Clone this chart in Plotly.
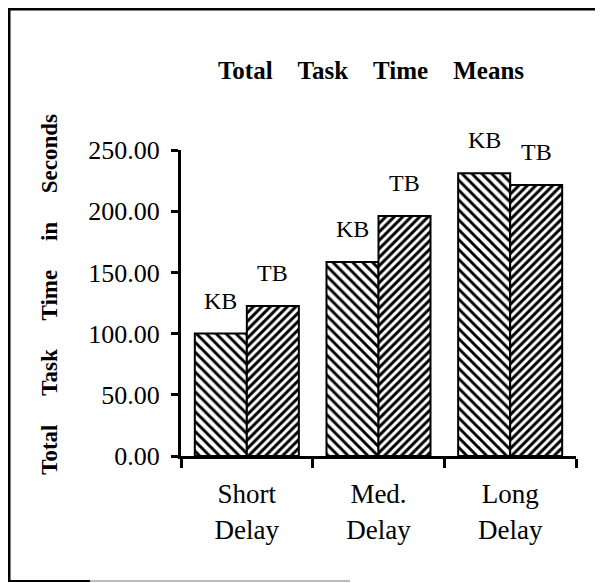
import plotly.graph_objects as go

# ---- data ----
categories = ["Short<br>Delay", "Med.<br>Delay", "Long<br>Delay"]
series_names = ["KB", "TB"]
kb_values = [100.0, 158.5, 231.0]
tb_values = [122.5, 196.0, 221.5]
y_tick_values = [0, 50, 100, 150, 200, 250]

# page body has an 8px margin; work in screen pixels and convert
OFF = 8
W, H = 603, 583
PL, PR, PT, PB = 181, 576, 150, 456   # plot area in screen pixels
ML, MR, MT, MB = PL - OFF, W - (PR - OFF), PT - OFF, H - (PB - OFF)
FONT = "Liberation Serif"
NB = "\u00a0"

def px_x(sx):
    return (sx - PL) / (PR - PL)

def px_y(sy):
    return (PB - sy) / (PB - PT)

fig = go.Figure()
patterns = {"KB": dict(shape="\\", size=7, solidity=0.42),
            "TB": dict(shape="/", size=6, solidity=0.5)}
for name, vals in zip(series_names, [kb_values, tb_values]):
    fig.add_trace(go.Bar(
        x=categories, y=vals, name=name,
        marker=dict(color="white",
                    line=dict(color="black", width=2),
                    pattern=dict(fgcolor="black", bgcolor="white",
                                 fillmode="replace", **patterns[name])),
        showlegend=False,
    ))

annotations = []
for i, (name, vals) in enumerate(zip(series_names, [kb_values, tb_values])):
    shift = -26 if i == 0 else 26
    for c, v in zip(categories, vals):
        annotations.append(dict(
            x=c, y=v, xref="x", yref="y", text=name, showarrow=False,
            xshift=shift, yshift=18, yanchor="bottom",
            font=dict(family=FONT, size=24, color="black")))

sp = " " + NB * 3
ysp = " " + NB * 4
fig.update_layout(
    width=W, height=H,
    margin=dict(l=ML, r=MR, t=MT, b=MB, autoexpand=False),
    paper_bgcolor="white", plot_bgcolor="white",
    barmode="group", bargap=0.21, bargroupgap=0,
    font=dict(family=FONT, color="black"),
    title=dict(text="<b>Total" + sp + "Task" + sp + "Time" + sp + "Means</b>",
               x=(371 - OFF) / W, xanchor="center",
               y=1 - (70 - OFF) / H, yanchor="middle",
               font=dict(family=FONT, size=25, color="black")),
    xaxis=dict(
        type="category", range=[-0.5, 2.5],
        showline=True, linecolor="black", linewidth=3,
        ticks="outside", ticklen=9, tickwidth=3, tickcolor="black",
        tickson="boundaries", showgrid=False, zeroline=False,
        tickfont=dict(family=FONT, size=27, color="black"),
        ticklabelstandoff=12,
    ),
    yaxis=dict(
        range=[0, 250], tickvals=y_tick_values, tickformat=".2f",
        showline=True, linecolor="black", linewidth=3,
        ticks="outside", ticklen=7, tickwidth=3, tickcolor="black",
        showgrid=False, zeroline=False,
        tickfont=dict(family=FONT, size=26, color="black"),
        ticklabelstandoff=6,
        title=dict(text="<b>" + NB * 3 + "Total" + ysp + "Task" + ysp + "Time"
                        + ysp + "in" + ysp + "Seconds</b>",
                   font=dict(family=FONT, size=23, color="black"),
                   standoff=25),
    ),
    yaxis2=dict(
        range=[0, 250], tickvals=y_tick_values, overlaying="y", anchor="x",
        side="left", showticklabels=False, showline=False,
        ticks="inside", ticklen=7, tickwidth=3, tickcolor="black",
        showgrid=False, zeroline=False,
    ),
    xaxis2=dict(
        range=[-0.5, 2.5], tickvals=[-0.5, 0.5, 1.5, 2.5], overlaying="x",
        anchor="y", side="bottom", showticklabels=False, showline=False,
        ticks="inside", ticklen=6, tickwidth=3, tickcolor="black",
        showgrid=False, zeroline=False,
    ),
    annotations=annotations,
    shapes=[
        dict(type="line", xref="paper", yref="paper",
             x0=px_x(OFF), x1=px_x(W + OFF), y0=px_y(OFF + 1), y1=px_y(OFF + 1),
             line=dict(color="black", width=3)),
        dict(type="line", xref="paper", yref="paper",
             x0=px_x(OFF + 1), x1=px_x(OFF + 1), y0=px_y(OFF), y1=px_y(582),
             line=dict(color="black", width=3)),
        dict(type="line", xref="paper", yref="paper",
             x0=px_x(OFF), x1=px_x(90), y0=px_y(581), y1=px_y(581),
             line=dict(color="black", width=2)),
        dict(type="line", xref="paper", yref="paper",
             x0=px_x(90), x1=px_x(350), y0=px_y(581), y1=px_y(581),
             line=dict(color="#bbbbbb", width=2)),
    ],
)

fig.write_html("out.html")
